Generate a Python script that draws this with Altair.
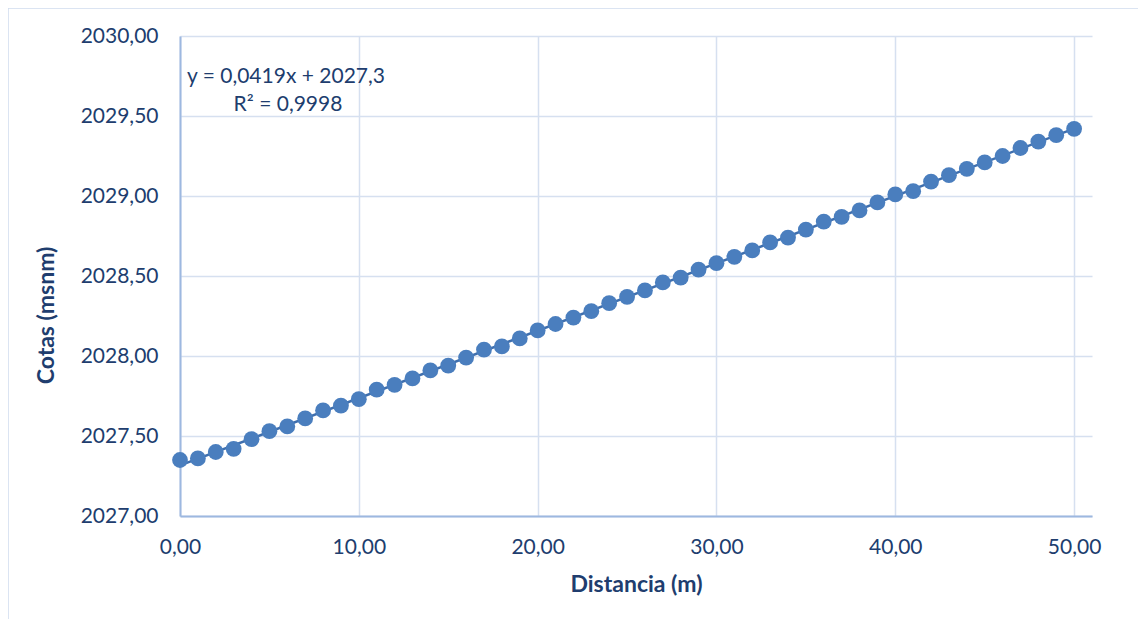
import altair as alt
import pandas as pd

distancia = list(range(0, 51))
cotas = [2027.35, 2027.36, 2027.40, 2027.42, 2027.48, 2027.53, 2027.56, 2027.61, 2027.66, 2027.69,
         2027.73, 2027.79, 2027.82, 2027.86, 2027.91, 2027.94, 2027.99, 2028.04, 2028.06, 2028.11,
         2028.16, 2028.20, 2028.24, 2028.28, 2028.33, 2028.37, 2028.41, 2028.46, 2028.49, 2028.54,
         2028.58, 2028.62, 2028.66, 2028.71, 2028.74, 2028.79, 2028.84, 2028.87, 2028.91, 2028.96,
         2029.01, 2029.03, 2029.09, 2029.13, 2029.17, 2029.21, 2029.25, 2029.30, 2029.34, 2029.38,
         2029.42]
x_ticks = [0, 10, 20, 30, 40, 50]
y_ticks = [2027.0, 2027.5, 2028.0, 2028.5, 2029.0, 2029.5, 2030.0]
eq_line1 = "y = 0,0419x + 2027,3"
eq_line2 = "R² = 0,9998"

df = pd.DataFrame({"d": distancia, "c": cotas})

NAVY = "#203D6E"
FONT = "Lato"
LBL = "replace(format(datum.value, '.2f'), '.', ',')"

xenc = alt.X("d:Q", scale=alt.Scale(domain=[0, 51], nice=False, zero=False),
             axis=alt.Axis(values=x_ticks, labelExpr=LBL, title="Distancia (m)",
                           grid=True, ticks=False, labelPadding=20, labelFlush=False,
                           titleX=456, titleY=68, titleBaseline="middle", titleAlign="center"))
yenc = alt.Y("c:Q", scale=alt.Scale(domain=[2027, 2030], nice=False, zero=False),
             axis=alt.Axis(values=y_ticks, labelExpr=LBL, title="Cotas (msnm)",
                           grid=True, ticks=False, labelPadding=22, labelFlush=False,
                           titleX=-134, titleY=279, titleBaseline="middle", titleAlign="center"))

base = alt.Chart(df)

border = alt.Chart(pd.DataFrame({"k": [0]})).mark_rect(
    fill="transparent", stroke="#D0DCEE", strokeWidth=1.5
).encode(x=alt.value(-172), x2=alt.value(1100), y=alt.value(-28), y2=alt.value(700))

trend = base.transform_regression("d", "c").mark_line(
    color="#3F6FAE", strokeWidth=2.5
).encode(x=xenc, y=yenc)

points = base.mark_circle(size=250, color="#4A7EBE", opacity=1).encode(x=xenc, y=yenc)

t1 = alt.Chart(pd.DataFrame({"t": [eq_line1]})).mark_text(
    align="left", baseline="middle", font=FONT, fontSize=21, color=NAVY
).encode(text="t:N", x=alt.value(7), y=alt.value(41))
t2 = alt.Chart(pd.DataFrame({"t": [eq_line2]})).mark_text(
    align="center", baseline="middle", font=FONT, fontSize=21, color=NAVY
).encode(text="t:N", x=alt.value(108), y=alt.value(69))

chart = alt.layer(border, trend, points, t1, t2).properties(
    width=912, height=480,
    autosize=alt.AutoSizeParams(type="none"),
    padding={"left": 172, "top": 28, "right": 46, "bottom": 103},
).configure_view(stroke=None).configure_axis(
    labelFont=FONT, labelFontSize=21, labelColor=NAVY,
    titleFont=FONT, titleFontSize=23, titleFontWeight="bold", titleColor=NAVY,
    gridColor="#D6E0F0", gridWidth=1.5, domainColor="#9DB8E0", domainWidth=2,
)

chart.save("out.html", embed_options={"renderer": "svg", "actions": False})
